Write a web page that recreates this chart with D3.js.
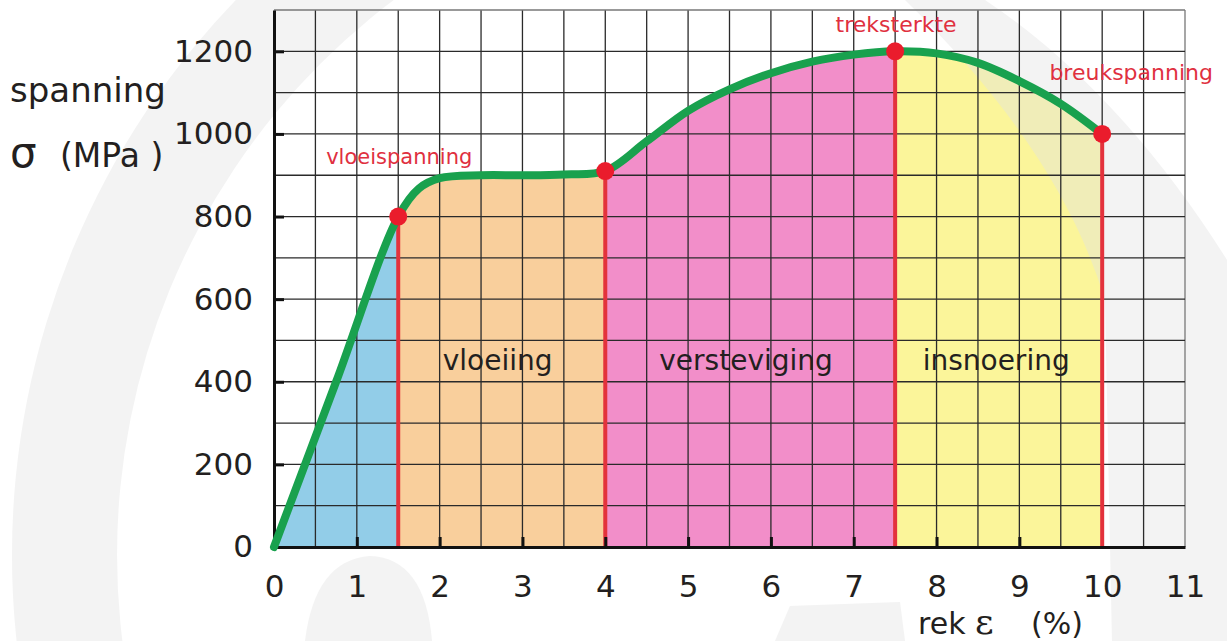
<!DOCTYPE html>
<html>
<head>
<meta charset="utf-8">
<script src="https://cdn.jsdelivr.net/npm/d3@7"></script>
<style>
  body { margin: 0; background: #fff; }
  text { font-family: "DejaVu Sans", sans-serif; }
</style>
</head>
<body>
<div id="chart"></div>
<script>
// strain (%) and stress (MPa)
const strain = [0, 0.75, 1.5, 1.75, 2, 2.5, 3, 3.5, 4, 4.5, 5, 5.5, 6, 6.5, 7, 7.5, 8, 8.5, 9, 9.5, 10];
const stress = [0, 400, 800, 868, 893, 900, 900, 902, 910, 982, 1056, 1108, 1147, 1175, 1192, 1200, 1195, 1172, 1128, 1073, 1000];

// phases of the curve
const phaseStart = [0, 1.5, 4, 7.5];
const phaseEnd = [1.5, 4, 7.5, 10];
const phaseNames = ["", "vloeiing", "versteviging", "insnoering"];
const phaseLabelX = [0, 2.7, 5.7, 8.72];
const phaseColors = ["#92cde8", "#f9cf9c", "#f28ec9", "#fbf59a"];

// marked points
const pointX = [1.5, 4, 7.5, 10];
const pointY = [800, 910, 1200, 1000];
const pointNames = ["vloeispanning", "", "treksterkte", "breukspanning"];

const xTicks = [0, 1, 2, 3, 4, 5, 6, 7, 8, 9, 10, 11];
const yTicks = [0, 200, 400, 600, 800, 1000, 1200];

const width = 1227, height = 641;
const svg = d3.select("#chart").append("svg")
    .attr("width", width).attr("height", height);

const x = d3.scaleLinear().domain([0, 11]).range([274, 1185]);
const y = d3.scaleLinear().domain([0, 1300]).range([547, 10]);

const pts = strain.map((s, i) => ({x: s, y: stress[i]}));
const curve = d3.curveCatmullRom.alpha(0.5);

// clip paths for each phase
const defs = svg.append("defs");
phaseStart.forEach((s, i) => {
    defs.append("clipPath").attr("id", "ph" + i)
        .append("rect")
        .attr("x", x(s)).attr("y", 0)
        .attr("width", x(phaseEnd[i]) - x(s)).attr("height", y(0));
});

const area = d3.area()
    .x(d => x(d.x)).y0(y(0)).y1(d => y(d.y))
    .curve(curve);

phaseStart.forEach((s, i) => {
    svg.append("path")
        .datum(pts)
        .attr("clip-path", `url(#ph${i})`)
        .attr("fill", phaseColors[i])
        .attr("d", area);
});

// faint watermark behind the grid
const wm = svg.append("g").attr("fill", "#e3e3e3").attr("opacity", 0.42);
wm.append("path")
    .attr("transform", "translate(812,555)")
    .attr("d", d3.arc()({innerRadius: 695, outerRadius: 800, startAngle: 0, endAngle: 2 * Math.PI}));
wm.append("path")
    .attr("d", "M905,0 Q1060,150 1105,300 L1112,641 L1227,641 L1227,260 Q1120,90 985,0 Z");
wm.append("path")
    .attr("d", "M305,641 Q315,560 370,556 Q425,558 432,641 Z");
wm.append("path")
    .attr("d", "M775,641 L790,606 L900,602 L905,641 Z");

// grid
const grid = svg.append("g").attr("stroke", "#2a2a2a").attr("stroke-width", 1.3);
grid.selectAll("line.v")
    .data(d3.range(0.5, 11.01, 0.5))
    .join("line").attr("class", "v")
    .attr("x1", d => x(d)).attr("x2", d => x(d))
    .attr("y1", y(0)).attr("y2", y(1300))
    .attr("stroke", d => d === 11 ? "#777" : null);
grid.selectAll("line.h")
    .data(d3.range(100, 1301, 100))
    .join("line").attr("class", "h")
    .attr("x1", x(0)).attr("x2", x(11))
    .attr("y1", d => y(d)).attr("y2", d => y(d))
    .attr("stroke", d => d === 1300 ? "#777" : null);

// red verticals under points
svg.append("g").selectAll("line")
    .data(pointX)
    .join("line")
    .attr("x1", d => x(d)).attr("x2", d => x(d))
    .attr("y1", y(0)).attr("y2", (d, i) => y(pointY[i]))
    .attr("stroke", "#e3323c").attr("stroke-width", 4);

// axes
const yAxis = svg.append("g")
    .attr("transform", `translate(${x(0)},0)`)
    .call(d3.axisLeft(y).tickValues(yTicks).tickFormat(d3.format("d"))
        .tickSize(-10).tickSizeOuter(0).tickPadding(21));
const xAxis = svg.append("g")
    .attr("transform", `translate(0,${y(0)})`)
    .call(d3.axisBottom(x).tickValues(xTicks).tickFormat(d3.format("d"))
        .tickSize(-10).tickSizeOuter(0).tickPadding(28));
[yAxis, xAxis].forEach(a => {
    a.select(".domain").attr("stroke", "#111").attr("stroke-width", 3);
    a.selectAll(".tick line").attr("stroke", "#111").attr("stroke-width", 3);
    a.selectAll(".tick text")
        .attr("fill", "#231f20")
        .style("font-family", "DejaVu Sans")
        .style("font-size", "31px");
});
xAxis.selectAll(".tick line").attr("display", d => (d === 0 || d >= 10) ? "none" : null);

// the curve
svg.append("path")
    .datum(pts)
    .attr("fill", "none")
    .attr("stroke", "#19a14e")
    .attr("stroke-width", 8)
    .attr("stroke-linecap", "round")
    .attr("d", d3.line().x(d => x(d.x)).y(d => y(d.y)).curve(curve));

// points
svg.append("g").selectAll("circle")
    .data(pointX)
    .join("circle")
    .attr("cx", d => x(d)).attr("cy", (d, i) => y(pointY[i]))
    .attr("r", 9)
    .attr("fill", "#ea1c2c");

// point labels
const labelOffset = [[1, -53], [0, 0], [1, -19], [29, -54]];
svg.append("g").selectAll("text")
    .data(pointNames)
    .join("text")
    .attr("x", (d, i) => x(pointX[i]) + labelOffset[i][0])
    .attr("y", (d, i) => y(pointY[i]) + labelOffset[i][1])
    .attr("text-anchor", "middle")
    .attr("fill", "#e0303f")
    .style("font-size", (d, i) => i === 0 ? "21px" : "22px")
    .text(d => d);

// phase labels
svg.append("g").selectAll("text")
    .data(phaseNames)
    .join("text")
    .attr("x", (d, i) => x(phaseLabelX[i]))
    .attr("y", 370)
    .attr("text-anchor", "middle")
    .attr("fill", "#231f20")
    .style("font-size", "28px")
    .text(d => d);

// axis titles
svg.append("text").attr("x", 10).attr("y", 102)
    .attr("fill", "#231f20").style("font-size", "34px").text("spanning");
const yt = svg.append("text").attr("x", 10).attr("y", 167).attr("fill", "#231f20");
yt.append("tspan").style("font-size", "42px").text("σ");
yt.append("tspan").attr("x", 60).style("font-size", "33px").text("(MPa )");

const xt = svg.append("text").attr("x", 918).attr("y", 634).attr("fill", "#231f20");
xt.append("tspan").style("font-size", "30px").text("rek");
xt.append("tspan").attr("x", 975).style("font-size", "36px").style("font-family", "DejaVu Serif").text("ε");
xt.append("tspan").attr("x", 1031).style("font-size", "30px").text("(%)");
</script>
</body>
</html>
